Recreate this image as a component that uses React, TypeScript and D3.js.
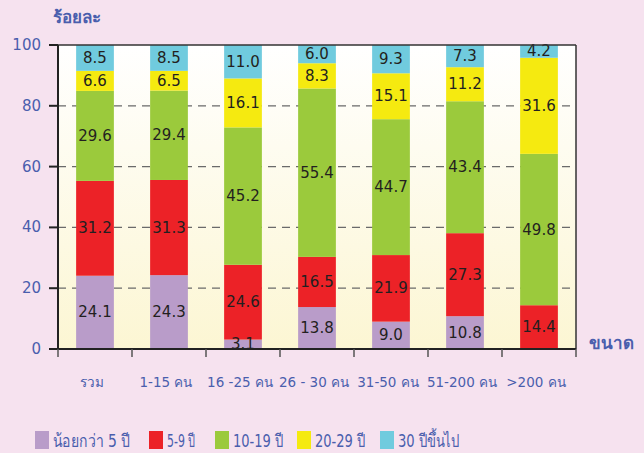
import React from "react";
import * as d3 from "d3";

const categories = ["รวม", "1-15 คน", "16 -25 คน", "26 - 30 คน", "31-50 คน", "51-200 คน", ">200 คน"];
const seriesNames = ["น้อยกว่า 5 ปี", "5-9 ปี", "10-19 ปี", "20-29 ปี", "30 ปีขึ้นไป"];
const under5 = [24.1, 24.3, 3.1, 13.8, 9.0, 10.8, 0];
const y5to9 = [31.2, 31.3, 24.6, 16.5, 21.9, 27.3, 14.4];
const y10to19 = [29.6, 29.4, 45.2, 55.4, 44.7, 43.4, 49.8];
const y20to29 = [6.6, 6.5, 16.1, 8.3, 15.1, 11.2, 31.6];
const y30plus = [8.5, 8.5, 11.0, 6.0, 9.3, 7.3, 4.2];
const yTicks = [0, 20, 40, 60, 80, 100];
const colors = ["#b99cc9", "#ec2227", "#9bca3c", "#f5ea10", "#70cbde"];

const W = 644;
const H = 453;
const margin = { left: 58, right: 68, top: 45, bottom: 104 };

export default function App() {
  const series = [under5, y5to9, y10to19, y20to29, y30plus];
  const rows = categories.map((c, i) => {
    const r: any = { cat: c };
    seriesNames.forEach((s, k) => (r[s] = series[k][i]));
    return r;
  });
  const stack = d3.stack<any>().keys(seriesNames)(rows);

  const x = d3.scaleBand().domain(categories).range([margin.left, W - margin.right]).paddingInner(0.49).paddingOuter(0.245);
  const band = d3.scaleBand().domain(categories).range([margin.left, W - margin.right]);
  const y = d3.scaleLinear().domain([0, 100]).range([H - margin.bottom, margin.top]);

  const blue = "#4a5ead";
  const font = "Verdana, 'DejaVu Sans', 'Noto Sans', sans-serif";
  const x0 = margin.left;
  const x1 = W - margin.right;
  const yb = y(0);
  const legendX = [35, 149, 215, 297, 380];
  const legendW = [77, 28, 50, 50, 61];

  return (
    <svg width={W} height={H} style={{ position: "fixed", left: 0, top: 0 }} fontFamily={font}>
      <defs>
        <linearGradient id="plotbg" x1="0" y1="0" x2="0" y2="1">
          <stop offset="0" stopColor="#ffffff" />
          <stop offset="1" stopColor="#fcf6d3" />
        </linearGradient>
      </defs>
      <rect x={0} y={0} width={W} height={H} fill="#f6e2ef" />
      <rect x={x0} y={y(100)} width={x1 - x0} height={yb - y(100)} fill="url(#plotbg)" />
      {yTicks.filter((t) => t > 0 && t < 100).map((t) => (
        <line key={t} x1={x0} x2={x1} y1={y(t)} y2={y(t)} stroke="#6a6a6a" strokeWidth={1.3} strokeDasharray="8,6" />
      ))}
      {stack.map((s, k) =>
        s.map((d, i) => {
          const v = series[k][i];
          if (v <= 0) return null;
          return (
            <rect key={`${k}-${i}`} x={x(categories[i])} width={x.bandwidth()} y={y(d[1])} height={y(d[0]) - y(d[1])} fill={colors[k]} />
          );
        })
      )}
      {stack.map((s, k) =>
        s.map((d, i) => {
          const v = series[k][i];
          if (v <= 0) return null;
          return (
            <text key={`t${k}-${i}`} x={(x(categories[i]) as number) + x.bandwidth() / 2} y={y((d[0] + d[1]) / 2)} textAnchor="middle" dominantBaseline="central" fontSize={15} fill="#231f20">
              {v.toFixed(1)}
            </text>
          );
        })
      )}
      {/* frame */}
      <line x1={x0} x2={x1} y1={y(100)} y2={y(100)} stroke="#333" strokeWidth={1.5} />
      <line x1={x1} x2={x1} y1={y(100)} y2={yb} stroke="#333" strokeWidth={1.5} />
      <line x1={x0} x2={x0} y1={y(100)} y2={yb} stroke="#222" strokeWidth={2} />
      <line x1={x0 - 9} x2={x1} y1={yb} y2={yb} stroke="#222" strokeWidth={2} />
      {yTicks.map((t) => (
        <g key={t}>
          <line x1={x0 - 9} x2={x0} y1={y(t)} y2={y(t)} stroke="#222" strokeWidth={2} />
          <text x={41} y={y(t)} textAnchor="end" dominantBaseline="central" fontSize={15} fill={blue}>
            {t}
          </text>
        </g>
      ))}
      {[...categories.map((c) => band(c) as number), x1].map((bx, i) => (
        <line key={i} x1={bx} x2={bx} y1={yb} y2={yb + 8} stroke="#555" strokeWidth={1.5} />
      ))}
      {categories.map((c) => (
        <text key={c} x={(band(c) as number) + band.bandwidth() / 2 - 3} y={382} textAnchor="middle" dominantBaseline="central" fontSize={13.5} fill={blue}>
          {c}
        </text>
      ))}
      <text x={53} y={17} dominantBaseline="central" fontSize={17} fill={blue} fontWeight="bold">
        ร้อยละ
      </text>
      <text x={589} y={343} dominantBaseline="central" fontSize={17} fill={blue} fontWeight="bold">
        ขนาด
      </text>
      {seriesNames.map((s, k) => (
        <g key={s}>
          <rect x={legendX[k]} y={431} width={14} height={18} fill={colors[k]} />
          <text x={legendX[k] + 18} y={440} dominantBaseline="central" fontSize={18} fill={blue} textLength={legendW[k]} lengthAdjust="spacingAndGlyphs">
            {s}
          </text>
        </g>
      ))}
    </svg>
  );
}
